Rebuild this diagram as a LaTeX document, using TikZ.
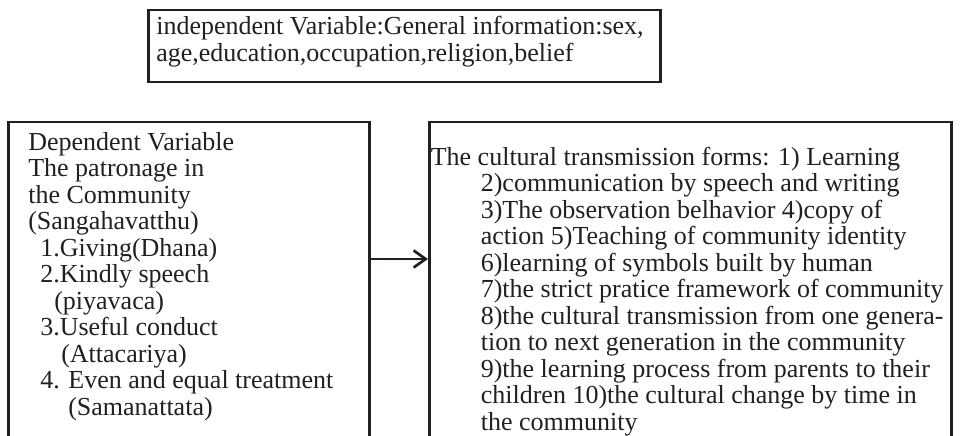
\documentclass[tikz,border=0pt]{standalone}
\usepackage{fontspec}
\setmainfont{Liberation Serif}
\usetikzlibrary{arrows.meta}
\definecolor{ink}{HTML}{231F20}
\newcommand{\txtline}[2][0pt]{\hspace*{#1}\mbox{#2}}
\begin{document}
\begin{tikzpicture}[x=1pt,y=-1pt,
  box/.style={draw=ink, line width=2.6pt, inner ysep=0pt, anchor=base west, text=ink,
              font=\fontsize{26pt}{26.5pt}\selectfont},
  arr/.style={draw=ink, line width=2.7pt, -{Straight Barb[length=12pt,width=17pt]}}]
\useasboundingbox (0,0) rectangle (961,436);
\node[box, inner xsep=8pt, text height=25pt, text depth=47pt] (indep) at (147,35)
  {\parbox[t]{496pt}{\raggedright \txtline{independent Variable:General information:sex,}\\\txtline{age,education,occupation,religion,belief}}};
\node[box, inner xsep=20pt, text height=28pt, text depth=320pt] (dep) at (7,150)
  {\parbox[t]{321pt}{\raggedright \txtline{Dependent Variable}\\
   \txtline{The patronage in}\\
   \txtline{the Community}\\
   \txtline{(Sangahavatthu)}\\
   \txtline[12pt]{1.Giving(Dhana)}\\
   \txtline[12pt]{2.Kindly speech}\\
   \txtline[26pt]{(piyavaca)}\\
   \txtline[12pt]{3.Useful conduct}\\
   \txtline[33pt]{(Attacariya)}\\
   \txtline[12pt]{4. Even and equal treatment}\\
   \txtline[40pt]{(Samanattata)}}};
\node[box, inner xsep=1.5pt, text height=43pt, text depth=300pt] (cul) at (428,165)
  {\parbox[t]{519pt}{\raggedright \txtline{The cultural transmission forms: 1) Learning}\\
   \txtline[50pt]{2)communication by speech and writing}\\
   \txtline[50pt]{3)The observation belhavior 4)copy of}\\
   \txtline[50pt]{action 5)Teaching of community identity}\\
   \txtline[50pt]{6)learning of symbols built by human}\\
   \txtline[50pt]{7)the strict pratice framework of community}\\
   \txtline[50pt]{8)the cultural transmission from one genera-}\\
   \txtline[50pt]{tion to next generation in the community}\\
   \txtline[50pt]{9)the learning process from parents to their}\\
   \txtline[50pt]{children 10)the cultural change by time in}\\
   \txtline[50pt]{the community}}};
\coordinate (ay) at (0,259);
\draw[arr] (dep.east |- ay) -- (cul.west |- ay);
\end{tikzpicture}
\end{document}
